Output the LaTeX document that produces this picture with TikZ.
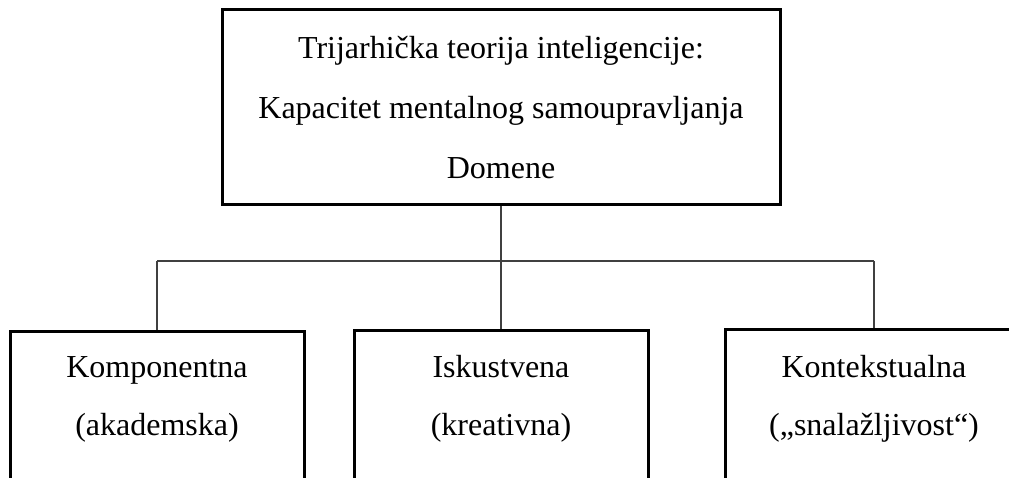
\documentclass[tikz,border=0pt]{standalone}
\usepackage{fontspec}
\setmainfont{Liberation Serif}
\tikzset{
  frame/.style={draw=black, line width=3pt, rectangle, inner sep=0pt},
  topbox/.style={frame, minimum width=558pt, minimum height=195pt, align=center,
    font=\fontsize{32}{60}\selectfont},
  lowframe/.style={frame, minimum width=294pt, minimum height=300pt, anchor=north},
  lowtext/.style={align=center, inner sep=0pt, font=\fontsize{32}{58}\selectfont},
  conn/.style={draw=black!75, line width=1.6pt}
}
\begin{document}
\begin{tikzpicture}[x=1pt,y=-1pt]
\useasboundingbox (0,0) rectangle (1009,478);
\node[topbox] (top) at (501,107.5) {Trijarhička teorija inteligencije:\\Kapacitet mentalnog samoupravljanja\\Domene};
\node[lowframe] (kf) at (157,330) {};
\node[lowframe] (if) at (501,329) {};
\node[lowframe, minimum width=298pt] (xf) at (874,328) {};
\node[lowtext] (kt) at (157,399) {Komponentna\\(akademska)};
\node[lowtext] (it) at (501,399) {Iskustvena\\(kreativna)};
\node[lowtext] (xt) at (874,399) {Kontekstualna\\(„snalažljivost“)};
\coordinate (hl) at (157,261);
\coordinate (hr) at (874,261);
\coordinate (hm) at (top.south |- hl);
\draw[conn] (top.south) -- (hm);
\draw[conn] (hl) -- (hr);
\draw[conn] (hl) -- (kf.north);
\draw[conn] (hm) -- (if.north);
\draw[conn] (hr) -- (xf.north);
\end{tikzpicture}
\end{document}
